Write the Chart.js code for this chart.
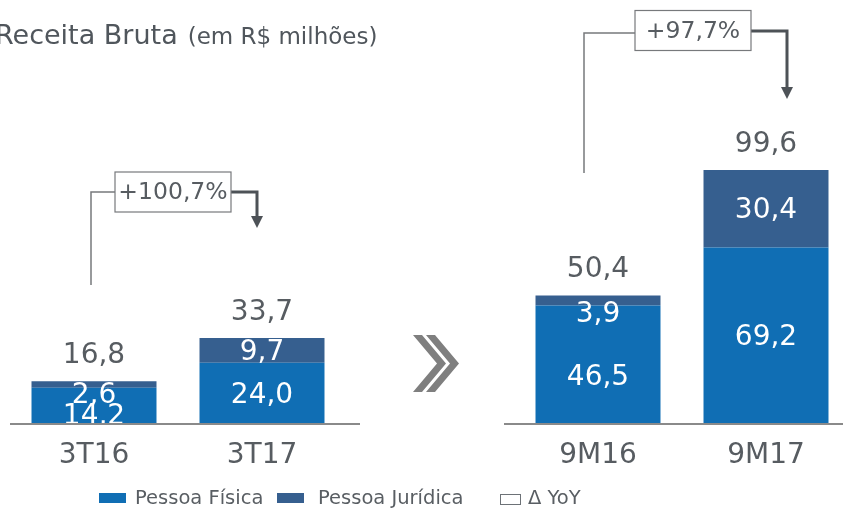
<!DOCTYPE html>
<html>
<head>
<meta charset="utf-8">
<script src="https://cdn.jsdelivr.net/npm/chart.js@4"></script>
<style>
  body { margin: 0; background: #fff; overflow: hidden; width: 843px; height: 516px; position: relative; }
  #caixa { position: absolute; left: 0; top: 0; width: 862px; height: 516px; }
  .leg { position: absolute; font-family: "DejaVu Sans", sans-serif; font-size: 19.5px; color: #595e63; white-space: nowrap; }
  .quad { position: absolute; }
</style>
</head>
<body>
<div id="caixa"><canvas id="grafico" width="862" height="516"></canvas></div>

<!-- legenda -->
<div class="quad" style="left:99px; top:493px; width:27px; height:10px; background:#106eb4"></div>
<div class="leg" style="left:135px; top:486px;">Pessoa Física</div>
<div class="quad" style="left:277px; top:493px; width:27px; height:10px; background:#365f8f"></div>
<div class="leg" style="left:318px; top:486px;">Pessoa Jurídica</div>
<div class="quad" style="left:500px; top:494px; width:19px; height:9px; border:1px solid #6d7277"></div>
<div class="leg" style="left:528px; top:486px;">Δ YoY</div>

<script>
// dados (R$ milhões)
const categorias = ['3T16', '3T17', '', '9M16', '9M17'];
const pessoaFisica = [14.2, 24.0, null, 46.5, 69.2];
const pessoaJuridica = [2.6, 9.7, null, 3.9, 30.4];
const variacaoYoY = ['+100,7%', '+97,7%'];

// ajuste manual dos rótulos internos (barras pequenas)
const deslocPF = [11, 2, 0, 13, 2];
const deslocPJ = [11, 2, 0, 14, 2];

const corTexto = '#575c61';
const fonte = '"DejaVu Sans", sans-serif';

function fmt(v) {
    return v.toFixed(1).replace('.', ',');
}

// desenha titulo, rótulos, eixo, setas e o chevron
const extras = {
    id: 'extras',
    afterDraw(chart) {
        const c = chart.ctx;
        const x = chart.scales.x;
        const area = chart.chartArea;
        const mPF = chart.getDatasetMeta(0);
        const mPJ = chart.getDatasetMeta(1);

        c.save();

        // titulo
        c.fillStyle = '#50565c';
        c.textAlign = 'left';
        c.textBaseline = 'alphabetic';
        c.font = '27px ' + fonte;
        c.fillText('Receita Bruta', -5, 44);
        let w = c.measureText('Receita Bruta').width;
        c.font = '23px ' + fonte;
        c.fillText('(em R$ milhões)', -5 + w + 10, 44);

        // rótulos
        c.textAlign = 'center';
        c.textBaseline = 'middle';
        c.font = '28px ' + fonte;
        for (let i = 0; i < categorias.length; i++) {
            if (pessoaFisica[i] == null) continue;
            const ePF = mPF.data[i];
            const ePJ = mPJ.data[i];
            c.fillStyle = '#ffffff';
            c.fillText(fmt(pessoaFisica[i]), ePF.x, (ePF.y + ePF.base) / 2 + deslocPF[i]);
            c.fillText(fmt(pessoaJuridica[i]), ePJ.x, (ePJ.y + ePJ.base) / 2 + deslocPJ[i]);
            c.fillStyle = corTexto;
            c.textBaseline = 'alphabetic';
            c.fillText(fmt(pessoaFisica[i] + pessoaJuridica[i]), ePJ.x, ePJ.y - 18);
            c.textBaseline = 'middle';
        }

        // linhas de base (por cima dos rótulos)
        c.strokeStyle = '#8a8a8a';
        c.lineWidth = 2;
        c.beginPath();
        c.moveTo(area.left, area.bottom);
        c.lineTo(x.getPixelForValue(1) + 98, area.bottom);
        c.moveTo(x.getPixelForValue(3) - 94, area.bottom);
        c.lineTo(area.right, area.bottom);
        c.stroke();

        // chevron duplo
        const cx = x.getPixelForValue(2);
        c.fillStyle = '#7f7f7f';
        [-17, -4].forEach(function (d) {
            const a = cx + d, t = 9, p = 24, top = 335, bot = 392, mid = 363.5;
            c.beginPath();
            c.moveTo(a, top);
            c.lineTo(a + t, top);
            c.lineTo(a + t + p, mid);
            c.lineTo(a + t, bot);
            c.lineTo(a, bot);
            c.lineTo(a + p, mid);
            c.closePath();
            c.fill();
        });

        // caixas de variação
        const setas = [
            { de: 0, para: 1, cxBox: 173, yBox: 192, dxE: -3, baseE: 285, dxD: -5, yH: 192, ponta: 228 },
            { de: 3, para: 4, cxBox: 693, yBox: 30.5, dxE: -14, baseE: 173, dxD: 21, yH: 31, ponta: 99 }
        ];
        setas.forEach(function (s, k) {
            const xe = x.getPixelForValue(s.de) + s.dxE;
            const xd = x.getPixelForValue(s.para) + s.dxD;
            const bw = 116, bh = 40;
            const bl = s.cxBox - bw / 2;
            // linha esquerda
            c.strokeStyle = '#77797c';
            c.lineWidth = 1.5;
            c.beginPath();
            c.moveTo(xe, s.baseE);
            c.lineTo(xe, s.yBox + (k === 1 ? 2.5 : 0));
            c.lineTo(bl, s.yBox + (k === 1 ? 2.5 : 0));
            c.stroke();
            // linha direita com seta
            c.strokeStyle = '#4d5257';
            c.lineWidth = 3;
            c.beginPath();
            c.moveTo(bl + bw, s.yH);
            c.lineTo(xd, s.yH);
            c.lineTo(xd, s.ponta - 11);
            c.stroke();
            c.fillStyle = '#4d5257';
            c.beginPath();
            c.moveTo(xd - 6, s.ponta - 12);
            c.lineTo(xd + 6, s.ponta - 12);
            c.lineTo(xd, s.ponta);
            c.closePath();
            c.fill();
            // caixa
            c.fillStyle = '#ffffff';
            c.fillRect(bl, s.yBox - bh / 2, bw, bh);
            c.strokeStyle = '#77797c';
            c.lineWidth = 1.2;
            c.strokeRect(bl, s.yBox - bh / 2, bw, bh);
            c.fillStyle = corTexto;
            c.font = '23.5px ' + fonte;
            c.textBaseline = 'middle';
            c.fillText(variacaoYoY[k], s.cxBox, s.yBox + 1);
        });

        c.restore();
    }
};

const ctx = document.getElementById('grafico');

new Chart(ctx, {
    type: 'bar',
    data: {
        labels: categorias,
        datasets: [
            { label: 'Pessoa Física', data: pessoaFisica, backgroundColor: '#106eb4' },
            { label: 'Pessoa Jurídica', data: pessoaJuridica, backgroundColor: '#365f8f' }
        ]
    },
    options: {
        responsive: false,
        animation: false,
        layout: { padding: { left: 10, right: 12, top: 16, bottom: 22 } },
        datasets: { bar: { barPercentage: 0.744, categoryPercentage: 1 } },
        plugins: { legend: { display: false }, tooltip: { enabled: false } },
        scales: {
            x: {
                stacked: true,
                grid: { display: false, drawTicks: false },
                border: { display: false },
                ticks: { color: corTexto, font: { family: 'DejaVu Sans', size: 28 }, padding: 15, maxRotation: 0, autoSkip: false },
                afterFit(scale) { scale.height = 70; }
            },
            y: {
                stacked: true,
                display: false,
                min: 0,
                max: 160
            }
        }
    },
    plugins: [extras]
});
</script>
</body>
</html>
